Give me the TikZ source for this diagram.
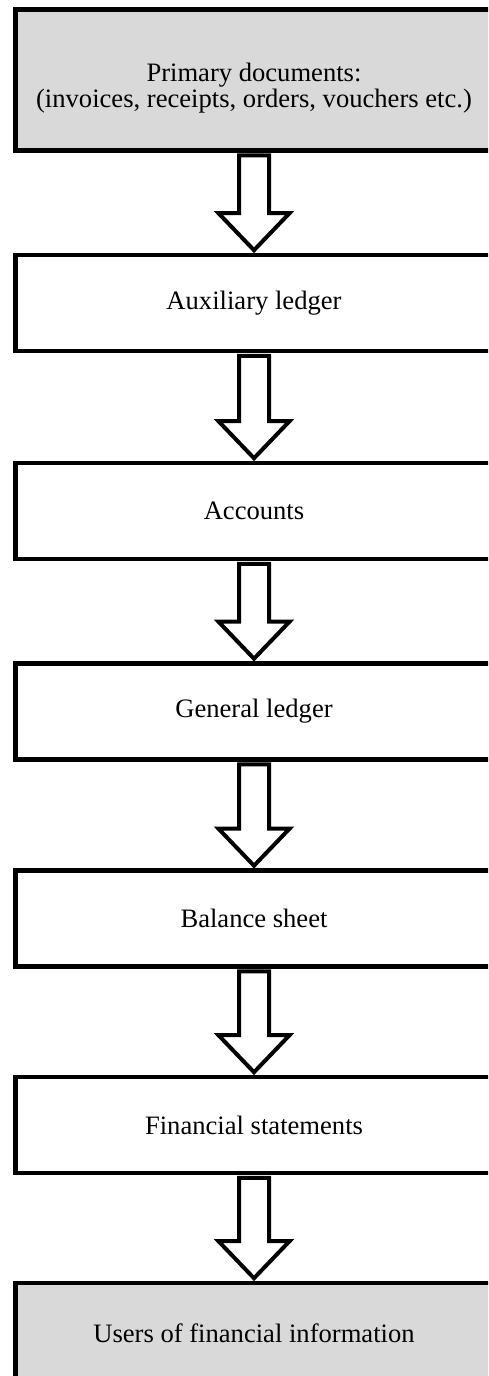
\documentclass[tikz,border=0pt]{standalone}
\usepackage{fontspec}
\setmainfont{Liberation Serif}
\usetikzlibrary{calc}

\begin{document}
\begin{tikzpicture}[x=0.5pt, y=-0.5pt,
  stage/.style={draw, line width=2.4pt, rectangle, minimum width=238.5pt,
    minimum height=48pt, inner sep=0pt, align=center,
    font=\fontsize{13.3}{12.9}\selectfont},
  endstage/.style={stage, fill=black!15},
  flow/.style={draw, line width=2pt, fill=white, line join=miter}]
  \useasboundingbox (0,0) rectangle (488,1376);
  \clip (0,0) rectangle (488,1376);
  % the stages of the chain
  \node[endstage, minimum height=70.5pt] (docs) at (254,80)
    {\rule{0pt}{17pt}Primary documents:\\(invoices, receipts, orders, vouchers etc.)};
  \node[stage] (aux) at (254,303) {Auxiliary ledger};
  \node[stage] (acc) at (254,511) {Accounts};
  \node[stage] (gen) at (254,711.5) {General ledger};
  \node[stage] (bal) at (254,918.5) {Balance sheet};
  \node[stage] (fin) at (254,1125) {Financial statements};
  \node[endstage, minimum height=50pt] (users) at (254,1333) {Users of financial information};
  % hollow block arrows between them
  \foreach \src/\dst in {docs/aux, aux/acc, acc/gen, gen/bal, bal/fin, fin/users}
    \draw[flow] let \p1=(\src.south), \p2=(\dst.north) in
      (\x1-7.5pt,\y1-1.2pt) -- (\x1+7.5pt,\y1-1.2pt)
      -- (\x1+7.5pt,\y2+19.7pt) -- (\x1+17.75pt,\y2+19.7pt)
      -- (\x2,\y2+1.2pt)
      -- (\x1-17.75pt,\y2+19.7pt) -- (\x1-7.5pt,\y2+19.7pt) -- cycle;
\end{tikzpicture}
\end{document}
